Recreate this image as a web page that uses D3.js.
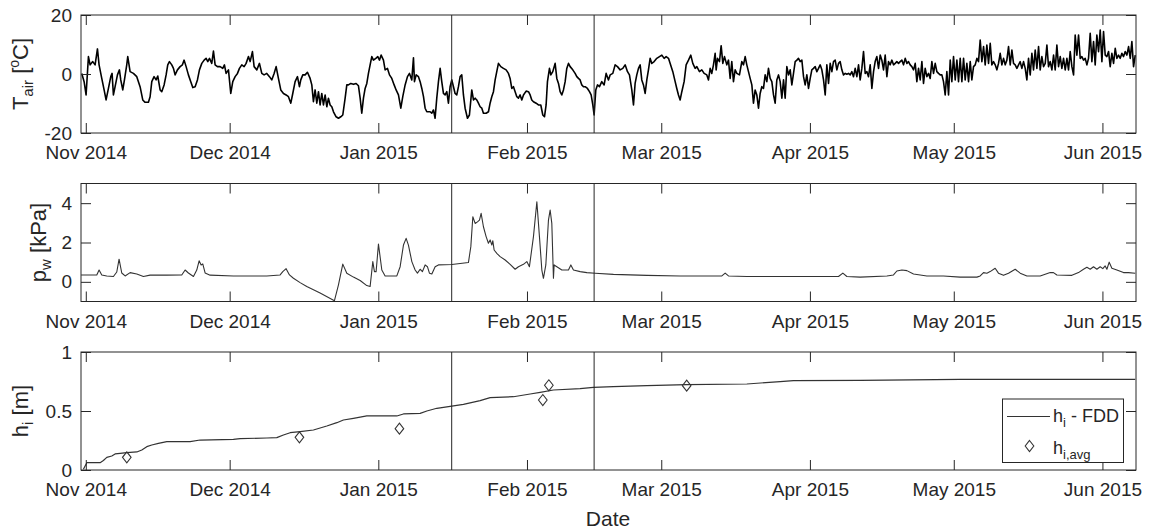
<!DOCTYPE html>
<html><head><meta charset="utf-8">
<script src="https://cdn.jsdelivr.net/npm/d3@7"></script>
<style>body{margin:0;background:#fff}svg{display:block}text{font-family:"Liberation Sans",Arial,sans-serif;fill:#262626}</style>
</head><body><svg id="c" width="1150" height="532"></svg>
<script>
// day 0 = 1 Nov 2014 (UTC); all time values below are days since then
const startDate = "2014-11-01";
const xDomainDays = [-1, 219];
const monthTicks = ["2014-11-01","2014-12-01","2015-01-01","2015-02-01","2015-03-01","2015-04-01","2015-05-01","2015-06-01"];
const eventDays = [76.3, 106.0];

const tairDomain = [-20, 20];
const tairTicks = [-20, 0, 20];
const pwDomain = [-1, 5];
const pwTicks = [0, 2, 4];
const hiDomain = [0, 1];
const hiTicks = [0, 0.5, 1];

// air temperature [day, degC]
const airTemp = [
[-0.84,0.2],[-0.35,-2.6],[0.06,-7.1],[0.55,5.9],[0.90,3.1],[1.45,4.2],[1.94,3.1],[2.43,8.5],[2.77,3.1],[3.33,-1.5],[3.82,-5.4],[4.23,-8.8],[4.72,-4.9],[5.21,-0.9],[5.48,0.2],[5.76,-7.1],[6.11,-4.3],[6.60,-0.3],[7.01,1.4],[7.29,-2.0],[7.71,-5.4],[8.06,-2.0],[8.54,3.1],[8.75,5.9],[9.24,0.8],[9.93,0.2],[10.63,-0.9],[11.32,-4.3],[11.88,-8.8],[12.37,-9.6],[13.06,-9.6],[13.41,-7.7],[13.76,-2.6],[14.24,-0.9],[14.66,-2.0],[15.01,-0.7],[15.50,-5.4],[15.84,-6.0],[16.33,-3.7],[16.75,-0.3],[17.09,3.1],[17.44,4.2],[17.93,3.1],[18.28,1.9],[18.62,-0.3],[19.11,1.4],[19.67,2.5],[20.15,3.1],[20.50,4.7],[20.92,2.5],[21.40,-0.3],[21.89,-2.6],[22.31,-4.6],[22.80,-4.3],[23.28,-2.0],[23.70,1.4],[24.19,3.6],[24.68,4.7],[25.09,5.3],[25.44,4.2],[25.79,5.3],[26.27,3.6],[26.62,7.8],[26.97,3.1],[27.45,2.5],[28.01,2.5],[28.56,1.9],[28.91,3.1],[29.26,0.2],[29.75,1.4],[30.23,-6.6],[30.65,-2.6],[31.14,-0.9],[31.63,0.2],[32.04,1.9],[32.53,3.1],[33.02,2.5],[33.43,3.6],[33.92,5.9],[34.27,4.2],[34.75,7.6],[35.10,2.5],[35.66,1.4],[36.21,3.6],[36.70,0.2],[37.18,-0.3],[37.74,0.2],[38.30,-0.9],[38.78,-2.0],[39.27,0.2],[39.69,2.5],[40.17,-1.5],[40.66,-5.4],[41.22,-6.6],[41.77,-7.1],[42.26,-7.7],[42.75,-9.9],[43.16,-6.6],[43.65,-2.6],[44.14,-0.9],[44.55,-4.3],[44.83,-2.0],[45.25,-0.3],[45.74,-0.3],[46.22,0.6],[46.78,-1.5],[47.13,-3.7],[47.47,-9.4],[47.82,-5.4],[48.17,-9.9],[48.52,-6.0],[48.86,-10.5],[49.21,-6.6],[49.56,-10.5],[49.91,-7.1],[50.26,-11.1],[50.60,-8.2],[50.95,-10.5],[51.30,-11.1],[51.65,-12.8],[52.20,-14.5],[52.69,-15.0],[53.17,-14.5],[53.59,-13.9],[54.08,-8.2],[54.43,-3.7],[54.77,-3.7],[55.26,-3.2],[55.82,-3.5],[56.37,-3.2],[56.86,-4.0],[57.21,-8.2],[57.55,-13.3],[57.90,-8.2],[58.25,-4.9],[58.60,-3.2],[58.94,0.2],[59.29,3.1],[59.64,5.9],[59.99,4.7],[60.47,5.3],[60.89,5.9],[61.24,4.7],[61.59,6.4],[62.07,4.7],[62.42,1.4],[62.91,1.9],[63.33,-0.3],[63.81,-1.5],[64.30,-3.7],[64.71,-5.4],[65.20,-7.1],[65.69,-11.6],[66.10,-7.7],[66.59,-3.7],[67.08,-0.9],[67.50,0.2],[67.98,-2.0],[68.33,5.5],[68.54,-2.6],[68.89,-0.3],[69.37,-0.9],[69.72,-2.6],[70.07,-4.9],[70.42,-7.7],[70.76,-11.6],[71.11,-12.8],
[71.80,-12.8],[72.15,-13.3],[72.50,-12.2],[72.84,-15.0],[73.19,-8.2],[73.54,-2.6],[73.89,1.9],[74.23,-2.6],[74.58,-6.6],[74.93,-7.1],[75.28,-6.0],[75.62,-9.9],[75.97,-4.3],[76.32,-2.0],[76.67,-4.3],[77.01,-6.6],[77.36,-7.1],[77.71,-4.3],[78.06,-0.9],[78.40,-0.3],[78.75,-7.1],[79.10,-11.6],[79.59,-15.0],[80.00,-13.9],[80.49,-5.4],[80.84,-8.8],[81.19,-8.2],[81.53,-8.8],[81.88,-9.9],[82.23,-11.1],[82.58,-11.6],[82.92,-13.3],[83.48,-13.3],[83.97,-12.8],[84.31,-9.9],[84.66,-7.7],[85.01,-6.0],[85.36,-2.0],[85.70,0.8],[86.05,3.6],[86.54,2.5],[87.09,1.9],[87.65,1.4],[88.14,0.2],[88.48,-1.5],[88.83,-4.9],[89.18,-4.3],[89.53,-6.0],[89.88,-7.7],[90.22,-8.2],[90.57,-7.1],[90.92,-8.8],[91.27,-7.1],[91.82,-5.8],[92.31,-6.0],[92.66,-7.1],[93.00,-8.8],[93.35,-9.4],[93.91,-9.9],[94.39,-10.5],[94.88,-10.5],[95.30,-13.9],[95.65,-14.5],[95.99,-10.5],[96.27,-2.6],[96.69,1.9],[96.97,-0.3],[97.38,0.8],[97.87,3.6],[98.22,-1.5],[98.57,-3.2],[98.91,-6.0],[99.26,-7.1],[99.61,-5.4],[99.96,-2.6],[100.30,1.9],[100.65,3.6],[101.00,2.5],[101.55,1.4],[102.04,0.2],[102.39,-0.9],[102.74,-1.5],[103.08,-2.0],[103.43,-3.7],[103.78,-4.3],[104.13,-4.3],[104.61,-4.9],[105.03,-6.0],[105.38,-7.1],[105.73,-10.5],[106.00,-13.9],[106.35,-5.4],[106.70,-3.7],[107.12,-4.3],[107.60,-2.6],[108.09,-3.7],[108.51,0.2],[108.99,-2.0],[109.34,-0.3],[109.90,0.2],[110.38,3.1],[110.87,2.5],[111.43,1.4],[111.98,1.9],[112.47,3.1],[112.96,0.8],[113.37,-0.3],[113.86,-5.4],[114.21,-10.5],[114.55,-3.2],[114.90,-0.3],[115.25,1.9],[115.60,3.1],[115.94,-2.0],[116.29,-3.7],[116.64,-6.6],[116.99,-2.0],[117.33,1.4],[117.68,5.3],[118.03,3.6],[118.52,4.2],[119.07,5.3],[119.63,5.9],[120.12,6.4],[120.60,5.3],[121.02,5.9],[121.51,5.3],[121.86,3.6],[122.41,0.8],[122.90,-2.6],[123.24,-4.9],[123.59,-7.1],[123.94,-8.8],[124.29,-6.0],[124.77,-2.6],[125.19,3.1],[125.68,4.7],[126.16,6.4],[126.58,3.6],[127.07,1.9],[127.42,2.5],[127.97,0.8],[128.46,1.4],[128.94,0.2],[129.50,-0.3],[129.85,-2.0],[130.20,1.9],[130.54,0.2],[130.89,3.1],[131.24,7.0],[131.45,1.4],[131.73,5.3],[132.14,4.2],[132.49,9.6],[132.84,3.6],[133.19,5.9],[133.67,3.1],[134.02,4.7],[134.37,-1.5],[134.71,4.2],[135.06,-2.6],[135.41,1.4],[135.76,0.2],[136.31,-0.3],[136.80,4.2],[137.15,3.1],[137.50,5.9],[137.84,3.1],[138.19,0.8],[138.54,-1.5],[138.89,-3.7],[139.23,-9.9],[139.58,-5.4],[139.93,-7.1],[140.28,-11.6],[140.62,-6.6],[140.97,-4.3],[141.32,-4.9],[141.67,-0.3],[142.02,-2.6],[142.36,1.9],[142.71,-1.5],[143.06,-2.6],[143.41,-7.1],[143.75,-9.9],[144.10,-2.0],[144.45,-0.3],
[144.80,-2.6],[145.15,-8.2],[145.50,-2.0],[145.84,-8.2],[146.19,2.5],[146.54,-0.3],[146.89,1.4],[147.23,-3.7],[147.58,0.2],[147.93,4.2],[148.28,4.7],[148.62,5.3],[148.97,4.2],[149.32,4.7],[149.67,-0.9],[150.01,-3.7],[150.36,-0.3],[150.71,-4.9],[151.06,-1.5],[151.40,1.4],[151.75,1.9],[152.10,2.5],[152.45,0.8],[152.79,1.9],[153.14,3.1],[153.49,1.4],[153.84,-2.0],[154.19,-7.1],[154.53,3.1],[154.88,-3.2],[155.23,3.6],[155.58,0.8],[155.92,4.2],[156.27,4.7],[156.62,1.4],[156.97,3.6],[157.31,4.2],[157.66,1.4],[158.01,-0.3],[158.36,0.2],[158.70,-0.1],[159.05,0.2],[159.40,-0.3],[159.75,0.8],[160.09,-0.9],[160.44,1.9],[160.79,-0.9],[161.14,3.1],[161.48,-2.0],[161.83,1.9],[162.18,7.6],[162.53,0.2],[162.88,0.8],[163.22,-0.9],[163.57,3.1],[163.92,-4.9],[164.27,0.8],[164.61,4.2],[164.96,5.9],[165.31,1.9],[165.66,6.4],[166.00,4.7],[166.35,1.4],[166.70,6.4],[167.05,-0.9],[167.39,4.2],[167.74,3.1],[168.09,4.7],[168.44,3.1],[168.78,3.6],[169.13,4.2],[169.48,3.6],[169.83,4.2],[170.17,4.7],[170.52,3.1],[170.87,5.3],[171.22,3.6],[171.56,4.2],[171.91,3.1],[172.26,2.5],[172.61,1.4],[172.96,3.6],[173.30,-2.6],[173.65,1.9],[174.00,-2.0],[174.35,4.2],[174.69,-3.2],[175.04,1.9],[175.39,-0.9],[175.74,0.2],[176.08,-1.5],[176.43,4.2],[176.78,0.2],[177.13,3.6],[177.47,0.8],[177.82,0.2],[178.17,-0.3],[178.52,-0.3],[178.86,-2.6],[179.21,-7.1],[179.56,0.8],[179.91,-7.1],[180.26,4.7],[180.60,-2.6],[180.95,5.9],[181.30,-2.0],[181.65,4.7],[181.99,-2.6],[182.34,5.3],[182.69,-2.6],[183.04,5.3],[183.38,-2.0],[183.73,3.6],[184.08,-2.6],[184.43,4.2],[184.77,-2.0],[185.12,2.5],[185.47,3.1],[185.82,5.3],[186.16,4.2],[186.51,11.5],[186.86,4.2],[187.21,9.3],[187.55,3.1],[187.90,9.8],[188.25,3.6],[188.60,10.4],[188.94,3.1],[189.29,4.2],[189.64,3.1],[189.99,1.4],[190.33,3.6],[190.68,7.0],[191.03,3.1],[191.38,5.3],[191.73,3.1],[192.07,4.7],[192.42,9.3],[192.77,3.1],[193.12,8.1],[193.46,3.6],[193.81,3.1],[194.16,1.9],[194.51,3.1],[194.85,4.2],[195.20,1.9],[195.55,4.2],[195.90,1.9],[196.24,-2.0],[196.59,5.3],[196.94,-0.3],[197.29,7.0],[197.63,1.4],[197.98,8.1],[198.33,1.9],[198.68,9.3],[199.02,1.4],[199.37,5.9],[199.72,2.5],[200.07,3.6],[200.42,9.8],[200.76,2.5],[201.11,4.2],[201.46,1.4],[201.81,6.4],[202.15,1.4],[202.50,9.8],[202.85,2.5],[203.20,5.9],[203.54,1.9],[203.89,5.3],[204.24,1.4],[204.59,5.3],[204.93,1.4],[205.28,7.6],[205.63,2.5],[205.98,-0.3],[206.32,13.2],[206.67,6.4],[207.02,13.2],[207.37,5.3],[207.71,5.9],[208.06,4.7],[208.41,5.3],[208.76,3.1],[209.10,5.3],[209.45,13.8],[209.80,4.2],[210.15,11.0],[210.49,3.1],[210.84,13.2],[211.19,7.6],[211.54,14.9],[211.89,4.2],[212.23,14.4],[212.58,6.4],[212.93,5.9],[213.28,7.6],[213.62,2.5],[213.97,7.0],[214.32,3.6],[214.67,8.7],[215.01,5.3],[215.36,6.4],[215.71,5.3],[216.06,7.0],[216.40,5.9],[216.75,7.6],[217.10,6.4],[217.45,9.3],[217.80,5.3],[218.14,11.0],[218.49,2.5],[218.84,6.4]
];

// water pressure [day, kPa]
const waterPressure = [
[-0.98,0.35],[2.29,0.35],[2.77,0.6],[3.33,0.35],[4.37,0.3],[5.76,0.27],[6.46,0.5],[6.94,1.15],[7.50,0.45],[8.20,0.3],[9.24,0.47],[10.63,0.4],[12.02,0.27],[13.41,0.34],[16.89,0.34],[20.01,0.35],[20.71,0.6],[21.40,0.45],[22.45,0.27],[23.14,0.6],[23.63,1.07],[24.05,0.86],[24.39,0.91],[24.88,0.45],[25.92,0.34],[30.79,0.3],[37.74,0.3],[40.52,0.35],[41.08,0.52],[41.77,0.67],[42.47,0.35],[43.30,0.18],[44.69,-0.04],[46.08,-0.24],[48.86,-0.57],[51.85,-0.96],[52.69,-0.15],[53.59,0.9],[54.43,0.44],[55.81,0.24],[57.21,0.07],[58.60,-0.19],[59.29,-0.24],[59.85,1.03],[60.19,0.52],[60.54,0.52],[61.03,1.92],[61.73,0.6],[62.42,0.3],[64.86,0.3],[65.55,0.77],[66.24,1.87],[66.80,2.21],[67.28,1.87],[67.99,1.03],[68.68,0.6],[69.16,0.44],[69.72,0.64],[70.20,0.52],[70.76,0.86],[71.24,0.77],[71.66,0.44],[72.16,0.4],[72.85,0.77],[73.53,0.86],[76.33,0.88],[79.79,0.98],[80.29,1.79],[80.71,3.31],[81.19,2.97],[81.67,3.05],[82.09,3.14],[82.44,3.48],[82.92,2.8],[83.48,2.3],[83.96,1.96],[84.32,2.13],[84.67,1.87],[84.88,2.09],[85.15,1.62],[85.71,1.45],[86.40,1.28],[87.45,1.11],[88.49,0.89],[89.53,0.64],[90.22,0.77],[91.26,0.89],[91.97,1.03],[92.51,0.77],[93.35,2.3],[94.06,4.07],[94.60,2.3],[95.10,0.6],[95.43,0.18],[95.93,0.86],[96.48,3.14],[96.83,3.65],[97.18,2.97],[97.52,0.18],[97.66,0.86],[98.23,0.77],[99.27,0.6],[100.65,0.6],[101.15,0.86],[101.69,0.6],[103.09,0.52],[104.48,0.47],[106.22,0.44],[110.03,0.38],[117.00,0.33],[123.94,0.3],[130.89,0.3],[132.64,0.3],[133.33,0.44],[134.02,0.3],[137.85,0.27],[144.80,0.27],[154.54,0.27],[156.96,0.27],[157.87,0.44],[158.71,0.27],[161.48,0.24],[167.05,0.3],[168.43,0.35],[169.13,0.55],[170.18,0.6],[171.22,0.57],[172.60,0.4],[175.39,0.3],[178.85,0.3],[182.33,0.24],[185.82,0.24],[186.51,0.3],[187.20,0.47],[187.90,0.44],[188.59,0.52],[189.63,0.69],[190.32,0.44],[191.37,0.33],[192.41,0.44],[193.81,0.64],[194.85,0.44],[196.25,0.3],[199.02,0.3],[201.11,0.47],[201.79,0.47],[202.50,0.35],[205.63,0.33],[207.01,0.47],[208.05,0.64],[208.76,0.74],[209.45,0.64],[210.14,0.77],[210.84,0.64],[211.53,0.77],[212.08,0.67],[212.57,0.81],[212.93,0.64],[213.41,1.0],[213.97,0.69],[215.01,0.6],[216.39,0.47],[217.43,0.47],[218.83,0.44]
];

// ice thickness, freezing-degree-day model [day, m]
const iceFDD = [
[-0.5,0.006],[0.21,0.062],[2.98,0.062],[3.67,0.08],[4.38,0.107],[5.42,0.119],[6.11,0.136],[7.15,0.141],[8.55,0.147],[10.64,0.153],[11.68,0.17],[12.72,0.198],[13.76,0.212],[15.14,0.226],[16.89,0.24],[21.75,0.24],[23.84,0.254],[30.78,0.26],[32.18,0.266],[37.75,0.271],[39.83,0.274],[41.21,0.297],[42.61,0.316],[44.69,0.325],[47.47,0.339],[50.26,0.373],[52.35,0.401],[53.72,0.424],[55.81,0.438],[58.60,0.458],[61.38,0.458],[64.86,0.458],[66.24,0.475],[69.72,0.48],[71.12,0.5],[73.20,0.523],[76.33,0.542],[78.75,0.556],[82.23,0.588],[84.32,0.613],[89.18,0.621],[92.66,0.644],[94.75,0.658],[97.52,0.678],[103.09,0.689],[105.86,0.7],[110.03,0.706],[117.00,0.715],[125.34,0.723],[137.85,0.729],[144.80,0.749],[147.57,0.757],[161.48,0.76],[182.33,0.768],[218.83,0.768]
];
// measured average ice thickness [day, m]
const iceAvg = [[8.55,0.107],[44.55,0.277],[65.4,0.35],[95.3,0.593],[96.56,0.718],[125.3,0.715]];

const t0 = Date.parse(startDate + "T00:00:00Z");
const toDate = d => new Date(t0 + d * 864e5);

const svg = d3.select("#c");
const L = 81, R = 1136;
const ink = "#262626";
const x = d3.scaleUtc().domain(xDomainDays.map(toDate)).range([L, R]);
const fmt = d3.utcFormat("%b %Y");
const mTicks = monthTicks.map(s => new Date(s + "T00:00:00Z"));

const panels = [
  {top:15, bottom:133, dom:tairDomain, ticks:tairTicks, data:airTemp, stroke:"#000", sw:1.6, lx:27.5},
  {top:183.5, bottom:301.5, dom:pwDomain, ticks:pwTicks, data:waterPressure, stroke:"#333", sw:1.1, lx:45.5},
  {top:352, bottom:470, dom:hiDomain, ticks:hiTicks, data:iceFDD, stroke:"#333", sw:1.2, lx:28}
];

panels.forEach((p, i) => {
  const y = d3.scaleLinear().domain(p.dom).range([p.bottom, p.top]);
  p.y = y;
  const g = svg.append("g");
  const cid = "clip" + i;
  svg.append("clipPath").attr("id", cid).append("rect")
    .attr("x", L).attr("y", p.top).attr("width", R - L).attr("height", p.bottom - p.top);

  const line = d3.line().x(d => x(toDate(d[0]))).y(d => y(d[1]));
  g.append("path").datum(p.data).attr("clip-path", `url(#${cid})`)
    .attr("fill", "none").attr("stroke", p.stroke).attr("stroke-width", p.sw)
    .attr("stroke-linejoin", "round").attr("d", line);

  g.selectAll(".ev").data(eventDays).enter().append("line")
    .attr("x1", d => x(toDate(d))).attr("x2", d => x(toDate(d)))
    .attr("y1", p.top).attr("y2", p.bottom).attr("stroke", ink).attr("stroke-width", 1);

  const styleAxis = sel => {
    sel.select(".domain").remove();
    sel.selectAll("line").attr("stroke", ink);
    sel.selectAll("text").attr("fill", ink).style("font-size", "19px")
      .style("font-family", '"Liberation Sans", Arial, sans-serif');
  };
  g.append("g").attr("transform", `translate(0,${p.bottom})`)
    .call(d3.axisBottom(x).tickValues(mTicks).tickFormat(fmt).tickSizeInner(-10).tickSizeOuter(0).tickPadding(13))
    .call(styleAxis);
  g.append("g").attr("transform", `translate(0,${p.top})`)
    .call(d3.axisTop(x).tickValues(mTicks).tickFormat("").tickSizeInner(-10).tickSizeOuter(0))
    .call(styleAxis);
  g.append("g").attr("transform", `translate(${L},0)`)
    .call(d3.axisLeft(y).tickValues(p.ticks).tickFormat(d => String(d)).tickSizeInner(-10).tickSizeOuter(0).tickPadding(9))
    .call(styleAxis);
  g.append("g").attr("transform", `translate(${R},0)`)
    .call(d3.axisRight(y).tickValues(p.ticks).tickFormat("").tickSizeInner(-10).tickSizeOuter(0))
    .call(styleAxis);

  g.append("rect").attr("x", L).attr("y", p.top).attr("width", R - L).attr("height", p.bottom - p.top)
    .attr("fill", "none").attr("stroke", ink).attr("stroke-width", 1);
});

function ylabel(p, parts) {
  const t = svg.append("text")
    .attr("transform", `translate(${p.lx},${(p.top + p.bottom) / 2}) rotate(-90)`)
    .attr("text-anchor", "middle").style("font-size", "22px");
  parts.forEach(([s, size, dy]) => t.append("tspan").text(s).style("font-size", size + "px").attr("dy", dy));
}
ylabel(panels[0], [["T",22,0],["air",15,5],[" [",22,-5],["o",14,-9],["C]",22,9]]);
ylabel(panels[1], [["p",22,0],["w",15,5],[" [kPa]",22,-5]]);
ylabel(panels[2], [["h",22,0],["i",15,5],[" [m]",22,-5]]);

const yH = panels[2].y;
const diamond = (cx, cy) => `M${cx},${cy - 5.5}L${cx + 4.3},${cy}L${cx},${cy + 5.5}L${cx - 4.3},${cy}Z`;
svg.append("g").selectAll("path").data(iceAvg).enter().append("path")
  .attr("d", d => diamond(x(toDate(d[0])), yH(d[1])))
  .attr("fill", "none").attr("stroke", "#333").attr("stroke-width", 1.1);

svg.append("text").attr("x", 608).attr("y", 526).attr("text-anchor", "middle")
  .style("font-size", "21px").text("Date");

const lg = svg.append("g");
lg.append("rect").attr("x", 1002.5).attr("y", 399).attr("width", 121).attr("height", 63.5)
  .attr("fill", "#fff").attr("stroke", ink).attr("stroke-width", 1);
lg.append("line").attr("x1", 1007).attr("x2", 1050).attr("y1", 416.5).attr("y2", 416.5)
  .attr("stroke", "#333").attr("stroke-width", 1.2);
const l1 = lg.append("text").attr("x", 1053).attr("y", 422).style("font-size", "18px");
l1.append("tspan").text("h");
l1.append("tspan").text("i").style("font-size", "13px").attr("dy", 5);
l1.append("tspan").text(" - FDD").attr("dy", -5);
lg.append("path").attr("d", diamond(1029.5, 446)).attr("fill", "none").attr("stroke", "#333").attr("stroke-width", 1.1);
const l2 = lg.append("text").attr("x", 1053).attr("y", 454).style("font-size", "18px");
l2.append("tspan").text("h");
l2.append("tspan").text("i,avg").style("font-size", "13px").attr("dy", 5);
</script>
</body></html>
